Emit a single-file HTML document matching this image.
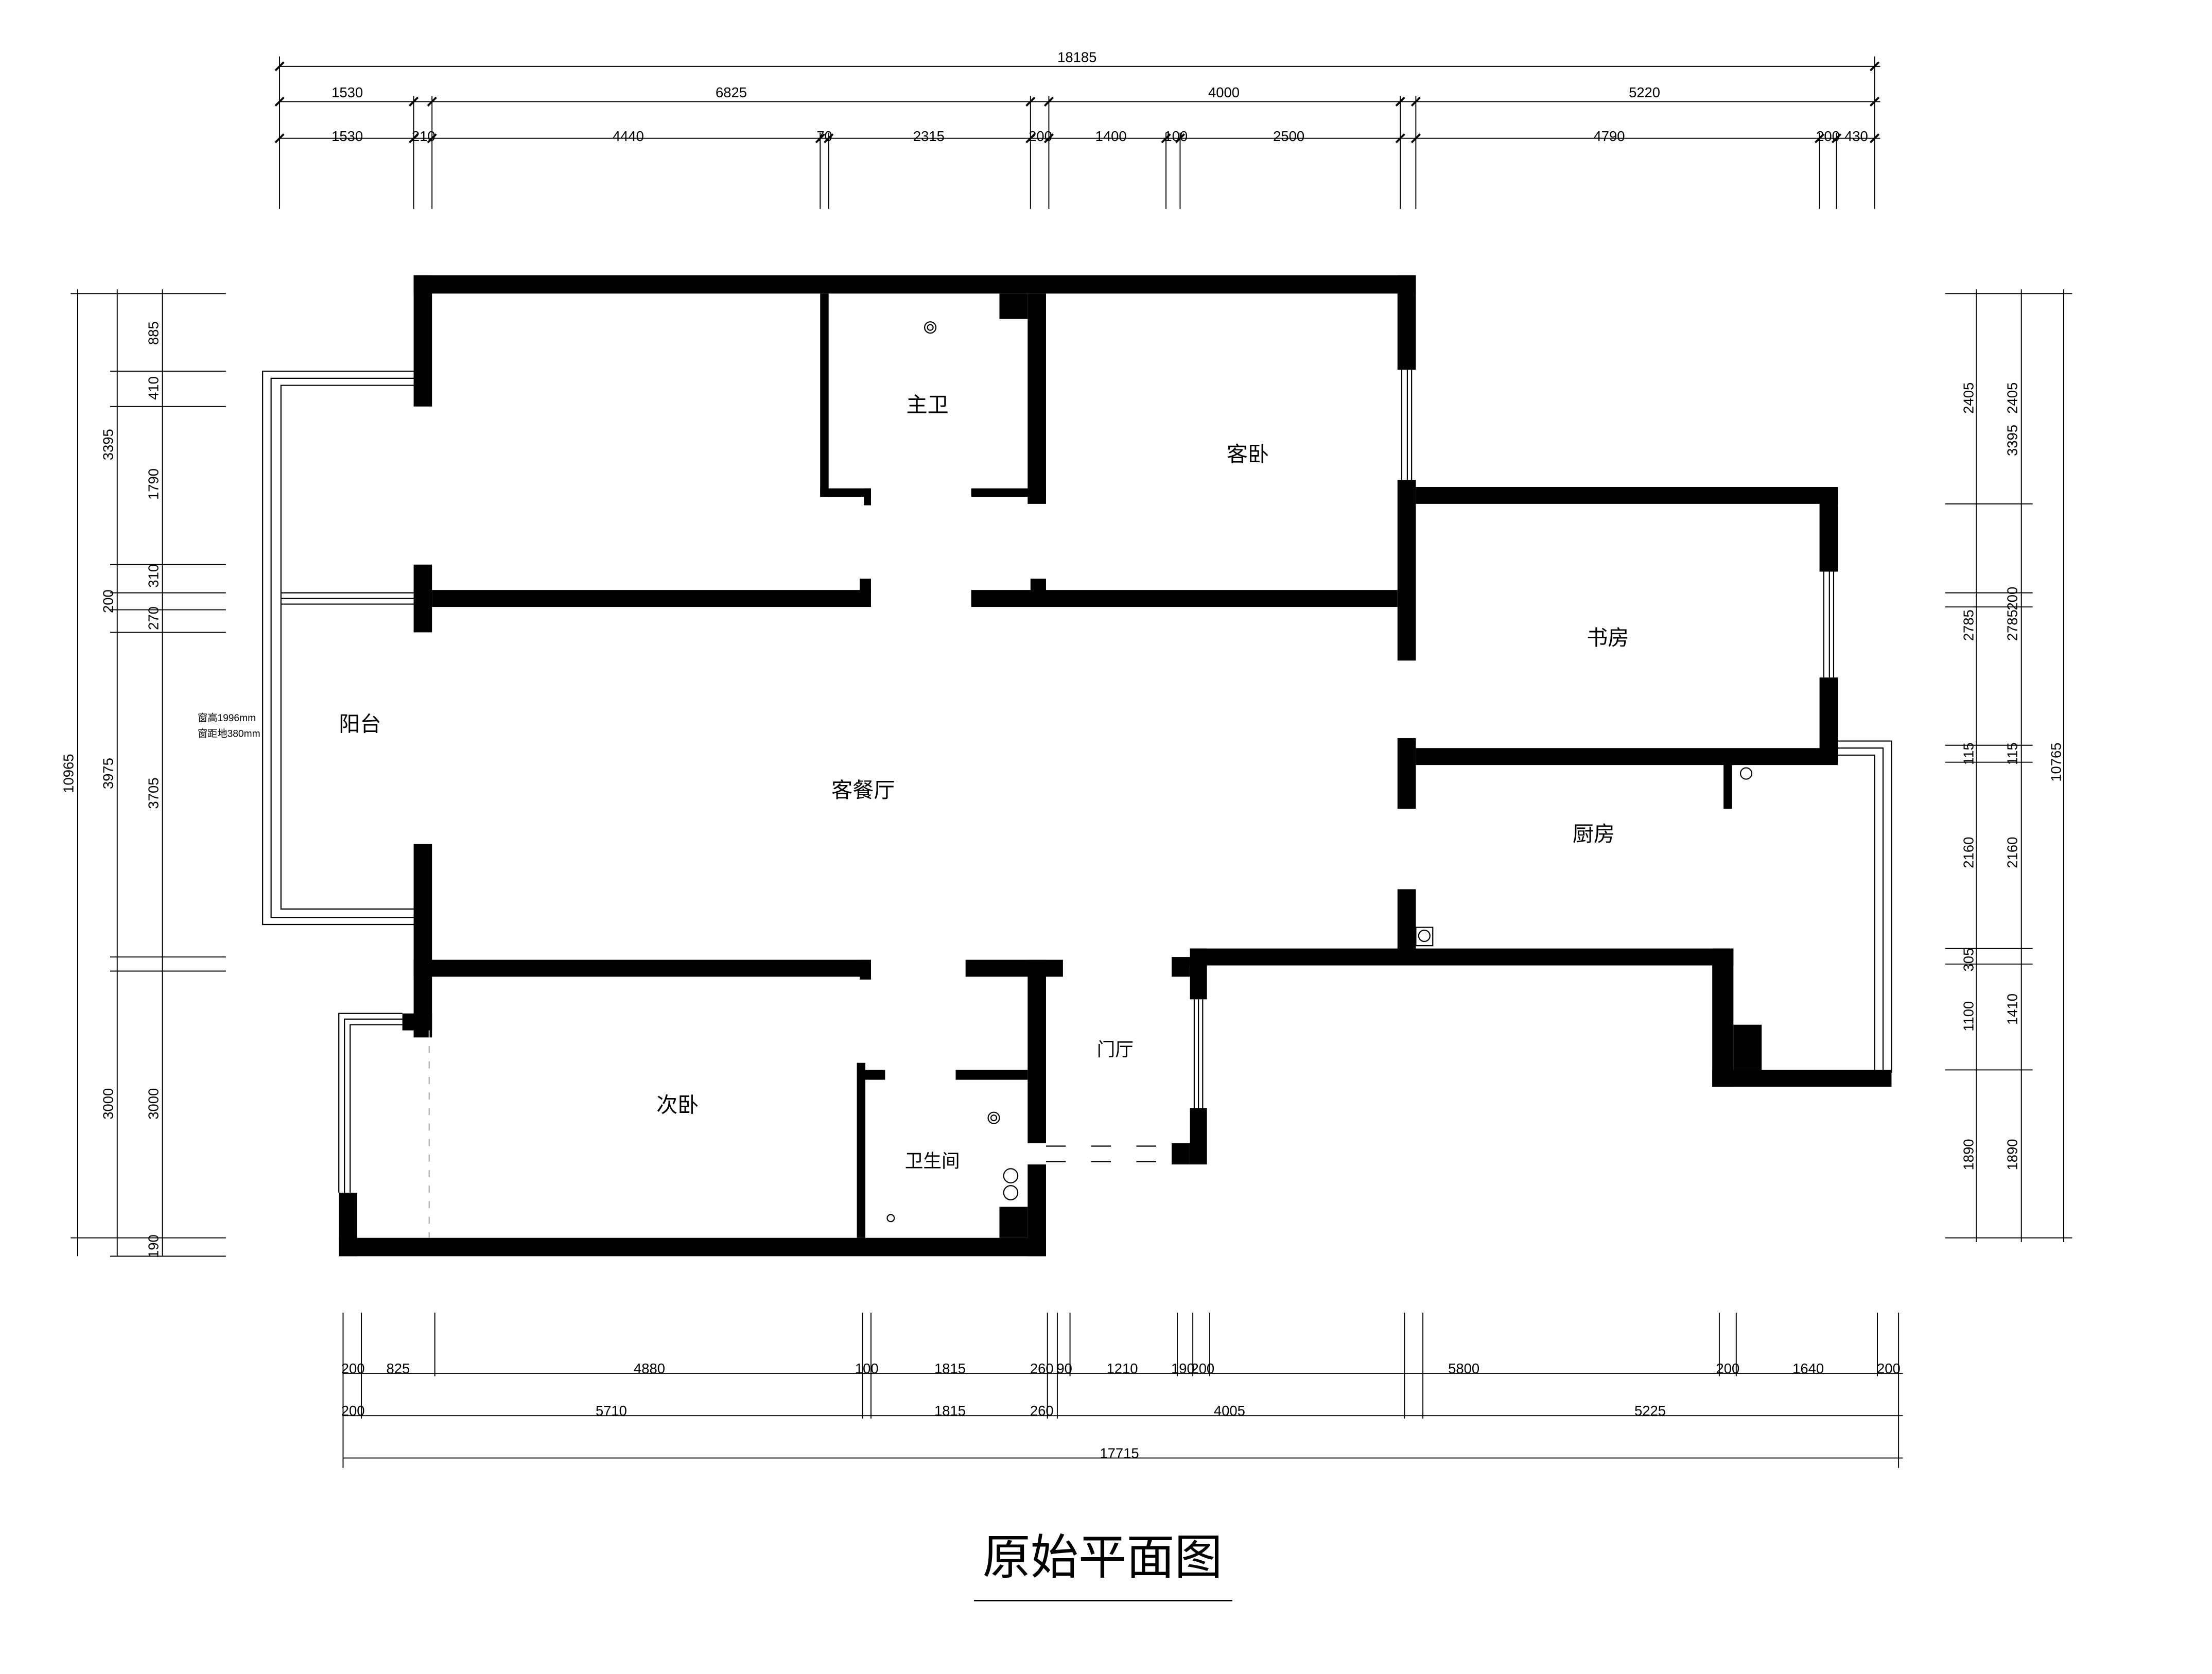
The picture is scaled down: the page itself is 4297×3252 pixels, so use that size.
<!DOCTYPE html>
<html><head><meta charset="utf-8"><style>
html,body{margin:0;padding:0;background:#fff;}
svg{display:block;}
text{font-family:"Liberation Sans","Noto Sans CJK SC",sans-serif;fill:#000;}
.d{font-size:10px;fill:#333;}
.r{font-size:15px;}
</style></head><body>
<svg width="4297" height="3252" viewBox="0 0 1567 1186" xmlns="http://www.w3.org/2000/svg">
<rect width="1567" height="1186" fill="#fff"/>
<g fill="#000">
<rect x="293" y="195" width="710" height="13"/>
<rect x="293" y="195" width="13" height="93"/>
<rect x="293" y="400" width="13" height="48"/>
<rect x="293" y="598" width="13" height="137"/>
<rect x="306" y="418" width="311" height="12"/>
<rect x="688" y="418" width="302" height="12"/>
<rect x="609" y="410" width="8" height="10"/>
<rect x="730" y="410" width="11" height="10"/>
<rect x="990" y="195" width="13" height="67"/>
<rect x="990" y="340" width="13" height="128"/>
<rect x="1003" y="345" width="299" height="12"/>
<rect x="1289" y="345" width="13" height="60"/>
<rect x="1289" y="480" width="13" height="55"/>
<rect x="1003" y="530" width="299" height="12"/>
<rect x="990" y="523" width="13" height="50"/>
<rect x="1221" y="540" width="6" height="33"/>
<rect x="990" y="630" width="13" height="44"/>
<rect x="843" y="672" width="385" height="12"/>
<rect x="1213" y="672" width="15" height="98"/>
<rect x="1213" y="758" width="127" height="12"/>
<rect x="1228" y="726" width="20" height="32"/>
<rect x="843" y="672" width="12" height="36"/>
<rect x="843" y="785" width="12" height="40"/>
<rect x="830" y="678" width="13" height="14"/>
<rect x="830" y="810" width="13" height="15"/>
<rect x="581" y="208" width="6" height="144"/>
<rect x="581" y="346" width="36" height="6"/>
<rect x="612" y="346" width="5" height="12"/>
<rect x="688" y="346" width="53" height="6"/>
<rect x="728" y="208" width="13" height="149"/>
<rect x="708" y="208" width="20" height="18"/>
<rect x="293" y="680" width="324" height="12"/>
<rect x="609" y="680" width="8" height="14"/>
<rect x="684" y="680" width="69" height="12"/>
<rect x="285" y="718" width="21" height="12"/>
<rect x="240" y="877" width="501" height="13"/>
<rect x="240" y="845" width="13" height="45"/>
<rect x="607" y="753" width="6" height="124"/>
<rect x="607" y="758" width="20" height="7"/>
<rect x="677" y="758" width="51" height="7"/>
<rect x="728" y="680" width="13" height="130"/>
<rect x="728" y="825" width="13" height="65"/>
<rect x="708" y="855" width="20" height="22"/>
</g>
<g stroke="#000" stroke-width="0.8" fill="none">
<path d="M293 263 H186 V655 H293 M293 268 H192 V650 H293 M293 273 H199 V644 H293"/>
<path d="M199 420 H293 M199 424 H293 M199 428 H293"/>
<path d="M285 718 H240 V845 M285 722 H244 V845 M285 726 H248 V845"/>
<path d="M993 262 V340 M997 262 V340 M1000 262 V340"/>
<path d="M1292 405 V480 M1296 405 V480 M1299 405 V480"/>
<path d="M1302 525 H1340 V760 M1302 530 H1334 V760 M1302 535 H1328 V760"/>
<path d="M846 708 V785 M849 708 V785 M852 708 V785"/>
<path d="M741 812 H830 M741 823 H830" stroke-dasharray="14 18"/>
<path d="M304 730 V877" stroke-dasharray="5 6" stroke="#aaa"/>
<circle cx="659" cy="232" r="4"/><circle cx="659" cy="232" r="2"/>
<circle cx="704" cy="792" r="4"/><circle cx="704" cy="792" r="2"/>
<circle cx="716" cy="833" r="5"/><circle cx="716" cy="845" r="5"/>
<circle cx="631" cy="863" r="2.5"/>
<circle cx="1237" cy="548" r="4"/>
<rect x="1003" y="657" width="12" height="13"/><circle cx="1009" cy="663" r="4"/>
</g>
<g class="r">
<text x="642" y="292">主卫</text>
<text x="869" y="327">客卧</text>
<text x="1124" y="457">书房</text>
<text x="240" y="518">阳台</text>
<text x="589" y="565">客餐厅</text>
<text x="1114" y="596">厨房</text>
<text x="777" y="748" font-size="13">门厅</text>
<text x="465" y="788">次卧</text>
<text x="641" y="827" font-size="13">卫生间</text>
</g>
<text x="140" y="511" font-size="7" font-family="Liberation Serif,Noto Serif CJK SC,serif">窗高1996mm</text>
<text x="140" y="522" font-size="7" font-family="Liberation Serif,Noto Serif CJK SC,serif">窗距地380mm</text>
<g stroke="#000" stroke-width="0.7" fill="none">
<path d="M198 47 H1332 M198 72 H1332 M198 98 H1332"/>
<path d="M198 40 V148 M1328 40 V148 M293 68 V148 M306 68 V148 M581 94 V148 M587 94 V148 M730 68 V148 M743 68 V148 M826 94 V148 M836 94 V148 M992 68 V148 M1003 68 V148 M1289 94 V148 M1301 94 V148"/>
<path d="M243 973 H1348 M243 1003 H1348 M243 1033 H1348"/>
<path d="M243 930 V1040 M256 930 V1005 M308 930 V975 M611 930 V1005 M617 930 V1005 M742 930 V1005 M749 930 V1005 M758 930 V975 M834 930 V975 M845 930 V975 M857 930 V975 M995 930 V1005 M1008 930 V1005 M1218 930 V975 M1230 930 V975 M1330 930 V975 M1345 930 V1040"/>
<path d="M55 205 V890 M83 205 V890 M115 205 V890"/>
<path d="M50 208 H160 M78 263 H160 M78 288 H160 M78 400 H160 M78 420 H160 M78 432 H160 M78 448 H160 M78 678 H160 M78 688 H160 M50 877 H160 M78 890 H160"/>
<path d="M1400 205 V880 M1432 205 V880 M1462 205 V880"/>
<path d="M1378 208 H1468 M1378 357 H1440 M1378 420 H1440 M1378 430 H1440 M1378 528 H1440 M1378 540 H1440 M1378 672 H1440 M1378 683 H1440 M1378 758 H1440 M1378 877 H1468"/>
</g>
<g stroke="#000" stroke-width="1.4">
<path d="M195 50 L201 44 M1325 50 L1331 44 M195 75 L201 69 M290 75 L296 69 M303 75 L309 69 M727 75 L733 69 M740 75 L746 69 M989 75 L995 69 M1000 75 L1006 69 M1325 75 L1331 69"/>
<path d="M195 101 L201 95 M290 101 L296 95 M303 101 L309 95 M578 101 L584 95 M584 101 L590 95 M727 101 L733 95 M740 101 L746 95 M823 101 L829 95 M833 101 L839 95 M989 101 L995 95 M1000 101 L1006 95 M1286 101 L1292 95 M1298 101 L1304 95 M1325 101 L1331 95"/>
</g>
<g class="d" text-anchor="middle">
<text x="763" y="44">18185</text>
<text x="246" y="69">1530</text><text x="518" y="69">6825</text><text x="867" y="69">4000</text><text x="1165" y="69">5220</text>
<text x="246" y="100">1530</text><text x="300" y="100">210</text><text x="445" y="100">4440</text><text x="584" y="100">70</text><text x="658" y="100">2315</text><text x="737" y="100">200</text><text x="787" y="100">1400</text><text x="833" y="100">100</text><text x="913" y="100">2500</text><text x="1140" y="100">4790</text><text x="1295" y="100">200</text><text x="1315" y="100">430</text>
<text x="250" y="973">200</text><text x="282" y="973">825</text><text x="460" y="973">4880</text><text x="614" y="973">100</text><text x="673" y="973">1815</text><text x="738" y="973">260</text><text x="754" y="973">90</text><text x="795" y="973">1210</text><text x="838" y="973">190</text><text x="852" y="973">200</text><text x="1037" y="973">5800</text><text x="1224" y="973">200</text><text x="1281" y="973">1640</text><text x="1338" y="973">200</text>
<text x="250" y="1003">200</text><text x="433" y="1003">5710</text><text x="673" y="1003">1815</text><text x="738" y="1003">260</text><text x="871" y="1003">4005</text><text x="1169" y="1003">5225</text>
<text x="793" y="1033">17715</text>
</g>
<g class="d" text-anchor="middle">
<text transform="translate(52,548) rotate(-90)">10965</text>
<text transform="translate(80,315) rotate(-90)">3395</text><text transform="translate(80,548) rotate(-90)">3975</text><text transform="translate(80,782) rotate(-90)">3000</text><text transform="translate(80,426) rotate(-90)">200</text>
<text transform="translate(112,236) rotate(-90)">885</text><text transform="translate(112,275) rotate(-90)">410</text><text transform="translate(112,343) rotate(-90)">1790</text><text transform="translate(112,408) rotate(-90)">310</text><text transform="translate(112,438) rotate(-90)">270</text><text transform="translate(112,562) rotate(-90)">3705</text><text transform="translate(112,782) rotate(-90)">3000</text><text transform="translate(112,883) rotate(-90)">190</text>
<text transform="translate(1398,282) rotate(-90)">2405</text><text transform="translate(1398,443) rotate(-90)">2785</text><text transform="translate(1398,534) rotate(-90)">115</text><text transform="translate(1398,604) rotate(-90)">2160</text><text transform="translate(1398,680) rotate(-90)">305</text><text transform="translate(1398,720) rotate(-90)">1100</text><text transform="translate(1398,818) rotate(-90)">1890</text>
<text transform="translate(1429,282) rotate(-90)">2405</text><text transform="translate(1429,312) rotate(-90)">3395</text><text transform="translate(1429,443) rotate(-90)">2785</text><text transform="translate(1429,424) rotate(-90)">200</text><text transform="translate(1429,534) rotate(-90)">115</text><text transform="translate(1429,604) rotate(-90)">2160</text><text transform="translate(1429,715) rotate(-90)">1410</text><text transform="translate(1429,818) rotate(-90)">1890</text>
<text transform="translate(1460,540) rotate(-90)">10765</text>
</g>
<text x="781" y="1115" font-size="34" text-anchor="middle" font-family="Liberation Sans,Noto Sans CJK SC,sans-serif">原始平面图</text>
<line x1="690" y1="1134" x2="873" y2="1134" stroke="#000" stroke-width="1"/>
</svg>
</body></html>
